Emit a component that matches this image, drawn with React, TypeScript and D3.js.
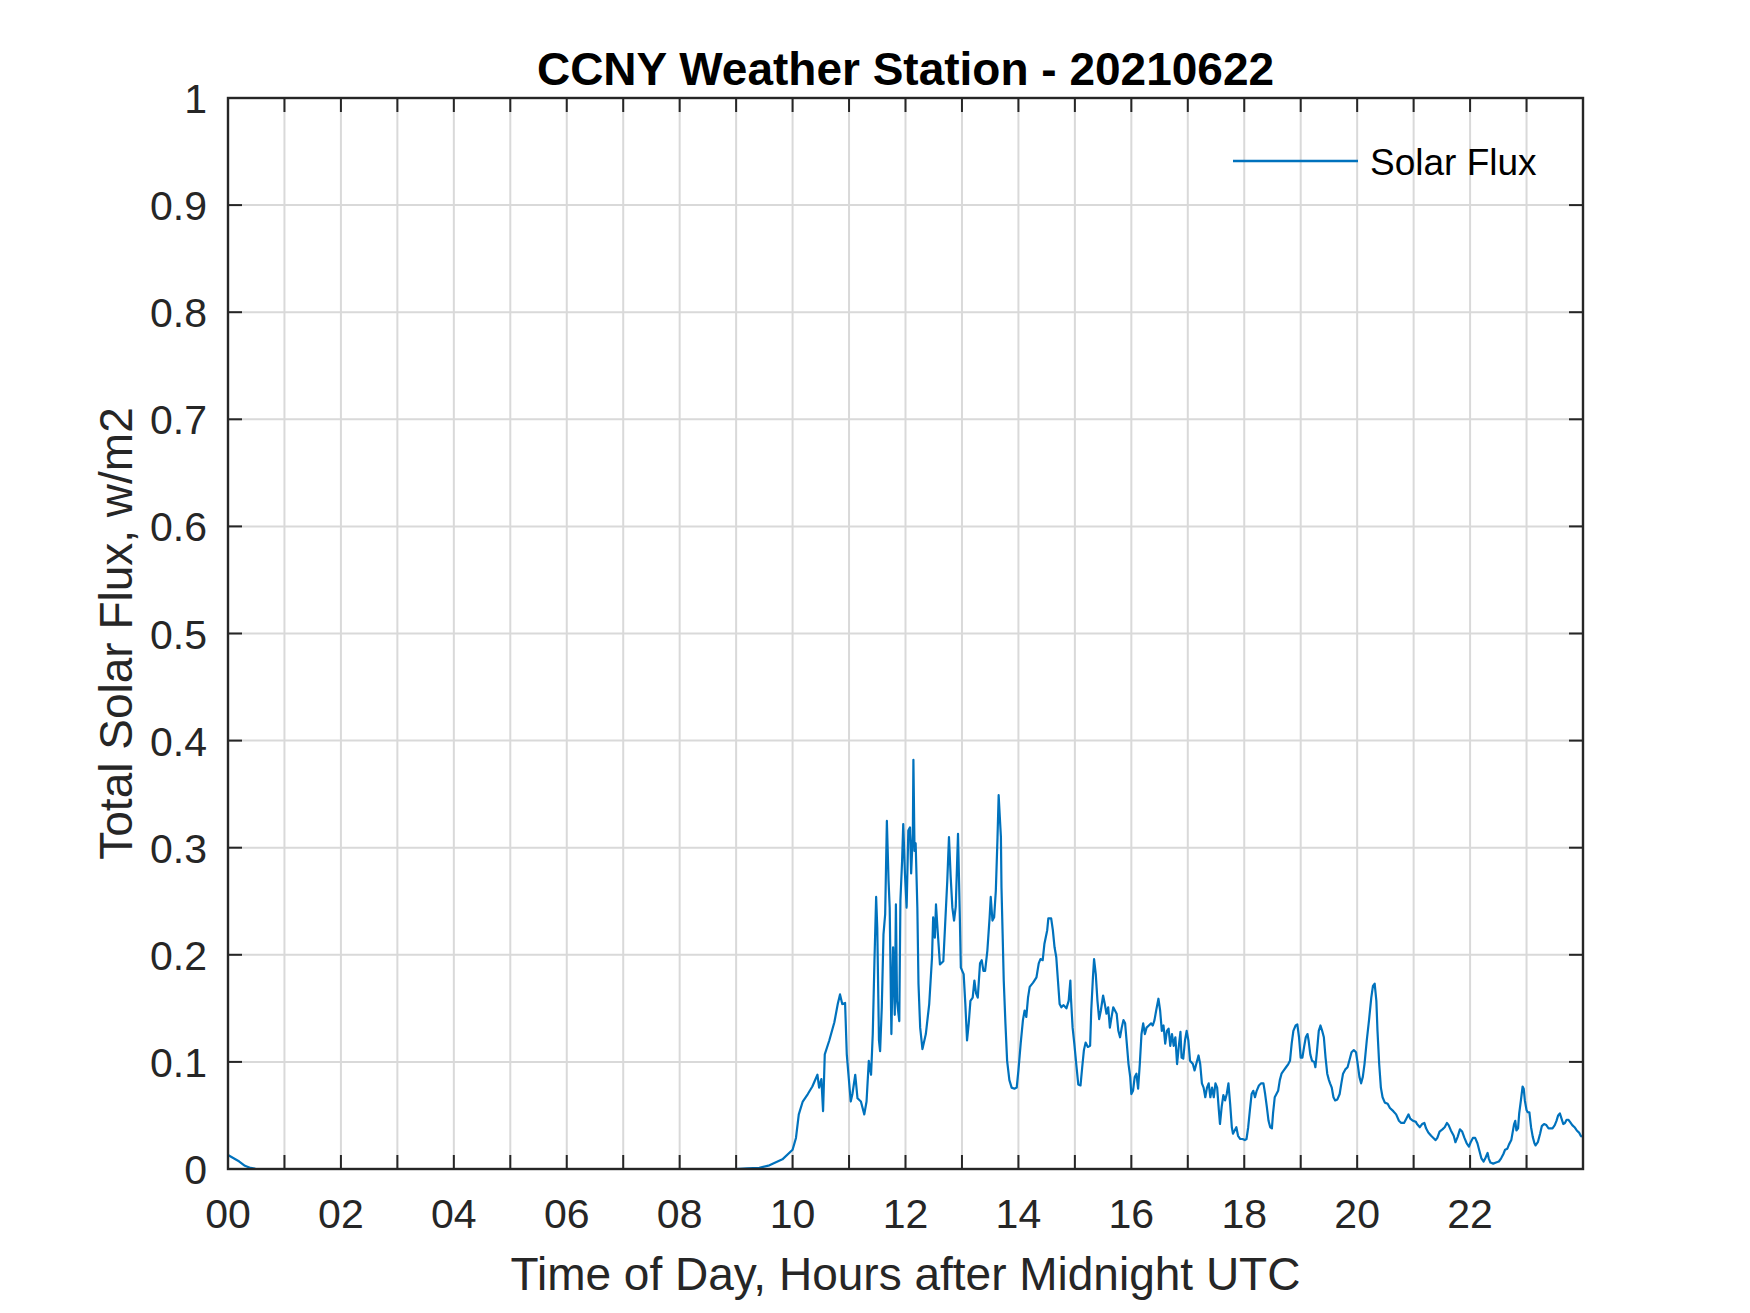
import { useEffect } from 'react';
import * as d3 from 'd3';

const WIDTH = 1750;
const HEIGHT = 1313;
const margin = { top: 98, right: 167, bottom: 144, left: 228 };
const innerWidth = WIDTH - margin.left - margin.right;
const innerHeight = HEIGHT - margin.top - margin.bottom;

const FONT = "'Liberation Sans', Arial, Helvetica, sans-serif";
const AXIS_COLOR = '#262626';
const GRID_COLOR = '#d9d9d9';
const LINE_COLOR = '#0072bd';

const chartTitle = 'CCNY Weather Station - 20210622';
const xAxisTitle = 'Time of Day, Hours after Midnight UTC';
const yAxisTitle = 'Total Solar Flux, w/m2';
const seriesName = 'Solar Flux';

// tick marks / grid every hour, labels every two hours
const hourTicks = [0, 1, 2, 3, 4, 5, 6, 7, 8, 9, 10, 11, 12, 13, 14, 15, 16, 17, 18, 19, 20, 21, 22, 23, 24];
const hourLabelValues = [0, 2, 4, 6, 8, 10, 12, 14, 16, 18, 20, 22];
const hourLabels = ['00', '02', '04', '06', '08', '10', '12', '14', '16', '18', '20', '22'];
const fluxTicks = [0, 0.1, 0.2, 0.3, 0.4, 0.5, 0.6, 0.7, 0.8, 0.9, 1];
const fluxTickLabels = ['0', '0.1', '0.2', '0.3', '0.4', '0.5', '0.6', '0.7', '0.8', '0.9', '1'];

// [hour, flux]
const solarFlux: [number, number][] = [
  [0.00, 0.013], [0.10, 0.010], [0.20, 0.007], [0.30, 0.003], [0.40, 0.001], [0.50, 0.000],
  [9.00, 0.000], [9.20, 0.0005], [9.41, 0.001], [9.59, 0.0034], [9.82, 0.009], [10.00, 0.018],
  [10.06, 0.029], [10.11, 0.051], [10.18, 0.063], [10.27, 0.070], [10.35, 0.077], [10.44, 0.088],
  [10.47, 0.076], [10.51, 0.084], [10.54, 0.054], [10.57, 0.107], [10.65, 0.120], [10.74, 0.137],
  [10.80, 0.154], [10.84, 0.163], [10.88, 0.154], [10.93, 0.155], [10.96, 0.107], [10.99, 0.088],
  [11.03, 0.063], [11.06, 0.070], [11.11, 0.088], [11.15, 0.066], [11.21, 0.063], [11.27, 0.051],
  [11.31, 0.063], [11.35, 0.101], [11.39, 0.088], [11.42, 0.126], [11.45, 0.194], [11.48, 0.254],
  [11.50, 0.225], [11.53, 0.120], [11.55, 0.110], [11.58, 0.151], [11.61, 0.219], [11.64, 0.238],
  [11.67, 0.325], [11.70, 0.269], [11.72, 0.244], [11.75, 0.126], [11.78, 0.207], [11.81, 0.144],
  [11.83, 0.247], [11.85, 0.157], [11.89, 0.138], [11.91, 0.251], [11.94, 0.288], [11.96, 0.322],
  [11.99, 0.276], [12.02, 0.244], [12.05, 0.316], [12.08, 0.319], [12.10, 0.276], [12.13, 0.313],
  [12.14, 0.382], [12.16, 0.297], [12.18, 0.304], [12.21, 0.244], [12.23, 0.173], [12.26, 0.132],
  [12.30, 0.112], [12.36, 0.126], [12.42, 0.154], [12.47, 0.198], [12.49, 0.235], [12.52, 0.216],
  [12.54, 0.247], [12.57, 0.222], [12.61, 0.191], [12.67, 0.194], [12.70, 0.226], [12.74, 0.269],
  [12.77, 0.310], [12.80, 0.273], [12.83, 0.244], [12.86, 0.232], [12.89, 0.245], [12.93, 0.313],
  [12.96, 0.241], [12.98, 0.188], [13.03, 0.182], [13.06, 0.154], [13.09, 0.120], [13.12, 0.136],
  [13.15, 0.157], [13.19, 0.160], [13.22, 0.176], [13.25, 0.164], [13.28, 0.160], [13.32, 0.192],
  [13.35, 0.195], [13.38, 0.185], [13.41, 0.185], [13.45, 0.204], [13.49, 0.235], [13.51, 0.254],
  [13.54, 0.232], [13.57, 0.235], [13.60, 0.260], [13.63, 0.310], [13.65, 0.349], [13.67, 0.329],
  [13.69, 0.310], [13.70, 0.263], [13.72, 0.220], [13.74, 0.176], [13.77, 0.136], [13.80, 0.101],
  [13.84, 0.083], [13.88, 0.076], [13.93, 0.075], [13.97, 0.076], [14.00, 0.092], [14.04, 0.117],
  [14.08, 0.139], [14.11, 0.148], [14.14, 0.142], [14.17, 0.160], [14.20, 0.170], [14.26, 0.174],
  [14.32, 0.179], [14.36, 0.192], [14.39, 0.196], [14.43, 0.195], [14.46, 0.210], [14.51, 0.223],
  [14.53, 0.234], [14.58, 0.234], [14.61, 0.223], [14.64, 0.207], [14.67, 0.198], [14.70, 0.176],
  [14.73, 0.154], [14.76, 0.151], [14.80, 0.153], [14.85, 0.150], [14.89, 0.157], [14.92, 0.176],
  [14.93, 0.160], [14.96, 0.132], [14.99, 0.117], [15.03, 0.095], [15.06, 0.079], [15.10, 0.078],
  [15.13, 0.095], [15.16, 0.111], [15.19, 0.118], [15.23, 0.114], [15.27, 0.115], [15.29, 0.148],
  [15.32, 0.179], [15.34, 0.196], [15.37, 0.182], [15.40, 0.157], [15.43, 0.140], [15.46, 0.148],
  [15.50, 0.162], [15.53, 0.154], [15.56, 0.145], [15.59, 0.151], [15.62, 0.132], [15.65, 0.142],
  [15.68, 0.151], [15.71, 0.148], [15.74, 0.145], [15.77, 0.129], [15.80, 0.123], [15.83, 0.132],
  [15.86, 0.139], [15.89, 0.136], [15.92, 0.117], [15.95, 0.098], [15.98, 0.086], [16.00, 0.070],
  [16.03, 0.073], [16.06, 0.086], [16.09, 0.089], [16.12, 0.075], [16.15, 0.098], [16.18, 0.126],
  [16.21, 0.136], [16.24, 0.126], [16.27, 0.132], [16.31, 0.134], [16.35, 0.136], [16.38, 0.134],
  [16.41, 0.139], [16.44, 0.148], [16.48, 0.159], [16.51, 0.148], [16.54, 0.129], [16.57, 0.134],
  [16.60, 0.117], [16.63, 0.129], [16.66, 0.131], [16.69, 0.115], [16.72, 0.126], [16.75, 0.115],
  [16.78, 0.123], [16.81, 0.098], [16.84, 0.114], [16.87, 0.128], [16.89, 0.104], [16.92, 0.103],
  [16.95, 0.120], [16.98, 0.129], [17.01, 0.120], [17.04, 0.101], [17.09, 0.098], [17.12, 0.092],
  [17.15, 0.098], [17.19, 0.106], [17.22, 0.098], [17.25, 0.080], [17.28, 0.076], [17.31, 0.067],
  [17.34, 0.076], [17.37, 0.080], [17.40, 0.067], [17.43, 0.076], [17.46, 0.067], [17.49, 0.080],
  [17.52, 0.076], [17.55, 0.055], [17.57, 0.042], [17.60, 0.058], [17.63, 0.069], [17.66, 0.064],
  [17.69, 0.070], [17.72, 0.080], [17.75, 0.061], [17.78, 0.039], [17.80, 0.033], [17.83, 0.036],
  [17.86, 0.039], [17.89, 0.031], [17.93, 0.028], [17.97, 0.028], [18.01, 0.027], [18.04, 0.028],
  [18.07, 0.039], [18.10, 0.055], [18.13, 0.070], [18.16, 0.073], [18.19, 0.067], [18.22, 0.073],
  [18.26, 0.078], [18.30, 0.080], [18.34, 0.080], [18.37, 0.070], [18.40, 0.058], [18.43, 0.045],
  [18.46, 0.039], [18.49, 0.038], [18.51, 0.052], [18.54, 0.067], [18.57, 0.070], [18.60, 0.073],
  [18.63, 0.083], [18.66, 0.089], [18.70, 0.092], [18.74, 0.095], [18.78, 0.098], [18.81, 0.101],
  [18.84, 0.117], [18.87, 0.129], [18.91, 0.134], [18.94, 0.135], [18.97, 0.123], [19.00, 0.104],
  [19.03, 0.104], [19.06, 0.114], [19.09, 0.123], [19.12, 0.126], [19.14, 0.120], [19.17, 0.107],
  [19.20, 0.101], [19.24, 0.100], [19.26, 0.095], [19.29, 0.111], [19.32, 0.129], [19.35, 0.134],
  [19.38, 0.129], [19.41, 0.123], [19.44, 0.104], [19.47, 0.089], [19.50, 0.083], [19.52, 0.080],
  [19.55, 0.076], [19.58, 0.067], [19.61, 0.064], [19.65, 0.065], [19.69, 0.070], [19.72, 0.080],
  [19.75, 0.089], [19.79, 0.093], [19.83, 0.095], [19.87, 0.103], [19.90, 0.109], [19.94, 0.111],
  [19.98, 0.109], [20.01, 0.098], [20.04, 0.086], [20.07, 0.080], [20.10, 0.086], [20.13, 0.098],
  [20.17, 0.120], [20.21, 0.139], [20.25, 0.160], [20.28, 0.171], [20.31, 0.173], [20.34, 0.157],
  [20.36, 0.129], [20.39, 0.098], [20.42, 0.076], [20.45, 0.067], [20.49, 0.062], [20.54, 0.061],
  [20.58, 0.057], [20.64, 0.054], [20.69, 0.051], [20.74, 0.045], [20.78, 0.043], [20.83, 0.043],
  [20.87, 0.047], [20.91, 0.051], [20.94, 0.047], [20.99, 0.045], [21.04, 0.044], [21.06, 0.042],
  [21.11, 0.039], [21.15, 0.042], [21.19, 0.043], [21.22, 0.038], [21.26, 0.034], [21.31, 0.031],
  [21.35, 0.029], [21.39, 0.027], [21.42, 0.029], [21.46, 0.035], [21.51, 0.037], [21.55, 0.039],
  [21.59, 0.043], [21.62, 0.041], [21.66, 0.036], [21.71, 0.031], [21.74, 0.025], [21.78, 0.030],
  [21.82, 0.037], [21.86, 0.035], [21.90, 0.029], [21.94, 0.024], [21.98, 0.021], [22.01, 0.025],
  [22.05, 0.029], [22.09, 0.029], [22.13, 0.024], [22.16, 0.018], [22.20, 0.010], [22.24, 0.007],
  [22.27, 0.010], [22.31, 0.015], [22.33, 0.010], [22.36, 0.006], [22.41, 0.005], [22.46, 0.006],
  [22.51, 0.007], [22.55, 0.010], [22.59, 0.014], [22.62, 0.018], [22.66, 0.019], [22.69, 0.023],
  [22.73, 0.027], [22.75, 0.033], [22.78, 0.042], [22.80, 0.045], [22.82, 0.036], [22.85, 0.038],
  [22.87, 0.052], [22.90, 0.064], [22.93, 0.077], [22.95, 0.075], [22.97, 0.064], [23.00, 0.055],
  [23.02, 0.053], [23.05, 0.053], [23.08, 0.039], [23.11, 0.030], [23.14, 0.024], [23.16, 0.022],
  [23.20, 0.025], [23.24, 0.033], [23.27, 0.040], [23.31, 0.042], [23.35, 0.041], [23.39, 0.038],
  [23.42, 0.038], [23.46, 0.038], [23.50, 0.041], [23.53, 0.045], [23.56, 0.050], [23.59, 0.052],
  [23.62, 0.047], [23.65, 0.042], [23.68, 0.043], [23.71, 0.046], [23.74, 0.046], [23.77, 0.044],
  [23.81, 0.041], [23.85, 0.039], [23.89, 0.036], [23.93, 0.034], [23.96, 0.031], [23.98, 0.030],
];

export default function App() {
  useEffect(() => {
    document.body.style.margin = '0';
  }, []);

  const x = d3.scaleLinear().domain([0, 24]).range([0, innerWidth]);
  const y = d3.scaleLinear().domain([0, 1]).range([innerHeight, 0]);

  const line = d3
    .line<[number, number]>()
    .x((d) => x(d[0]))
    .y((d) => y(d[1]));

  const tickLen = 14;

  return (
    <svg width={WIDTH} height={HEIGHT} style={{ display: 'block', background: '#fff' }} fontFamily={FONT}>
      <g transform={`translate(${margin.left},${margin.top})`}>
        {/* grid */}
        {hourTicks.slice(1, -1).map((h) => (
          <line key={`gx${h}`} x1={x(h)} x2={x(h)} y1={0} y2={innerHeight} stroke={GRID_COLOR} strokeWidth={2} />
        ))}
        {fluxTicks.slice(1, -1).map((v) => (
          <line key={`gy${v}`} x1={0} x2={innerWidth} y1={y(v)} y2={y(v)} stroke={GRID_COLOR} strokeWidth={2} />
        ))}

        {/* data */}
        <path d={line(solarFlux) ?? ''} fill="none" stroke={LINE_COLOR} strokeWidth={2.2} strokeLinejoin="round" />

        {/* tick marks, inward on all four sides */}
        {hourTicks.map((h) => (
          <g key={`tx${h}`} stroke={AXIS_COLOR} strokeWidth={2}>
            <line x1={x(h)} x2={x(h)} y1={innerHeight} y2={innerHeight - tickLen} />
            <line x1={x(h)} x2={x(h)} y1={0} y2={tickLen} />
          </g>
        ))}
        {fluxTicks.map((v) => (
          <g key={`ty${v}`} stroke={AXIS_COLOR} strokeWidth={2}>
            <line x1={0} x2={tickLen} y1={y(v)} y2={y(v)} />
            <line x1={innerWidth} x2={innerWidth - tickLen} y1={y(v)} y2={y(v)} />
          </g>
        ))}

        {/* axes box */}
        <rect x={0} y={0} width={innerWidth} height={innerHeight} fill="none" stroke={AXIS_COLOR} strokeWidth={2.4} />

        {/* tick labels */}
        {hourLabelValues.map((h, i) => (
          <text key={`lx${h}`} x={x(h)} y={innerHeight + 59} textAnchor="middle" fontSize={41} fill={AXIS_COLOR}>
            {hourLabels[i]}
          </text>
        ))}
        {fluxTicks.map((v, i) => (
          <text key={`ly${v}`} x={-21} y={y(v) + 15} textAnchor="end" fontSize={41} fill={AXIS_COLOR}>
            {fluxTickLabels[i]}
          </text>
        ))}

        {/* axis titles */}
        <text x={innerWidth / 2} y={innerHeight + 121} textAnchor="middle" fontSize={46} fill={AXIS_COLOR}>
          {xAxisTitle}
        </text>
        <text
          transform={`translate(${132 - margin.left},${innerHeight / 2}) rotate(-90)`}
          textAnchor="middle"
          fontSize={46}
          fill={AXIS_COLOR}
        >
          {yAxisTitle}
        </text>

        {/* title */}
        <text x={innerWidth / 2} y={-13} textAnchor="middle" fontSize={46} fontWeight="bold" fill="#000">
          {chartTitle}
        </text>

        {/* legend */}
        <g transform={`translate(${1233 - margin.left},${161 - margin.top})`}>
          <line x1={0} x2={125} y1={0} y2={0} stroke={LINE_COLOR} strokeWidth={2.4} />
          <text x={137} y={14} fontSize={37} fill="#000">
            {seriesName}
          </text>
        </g>
      </g>
    </svg>
  );
}
